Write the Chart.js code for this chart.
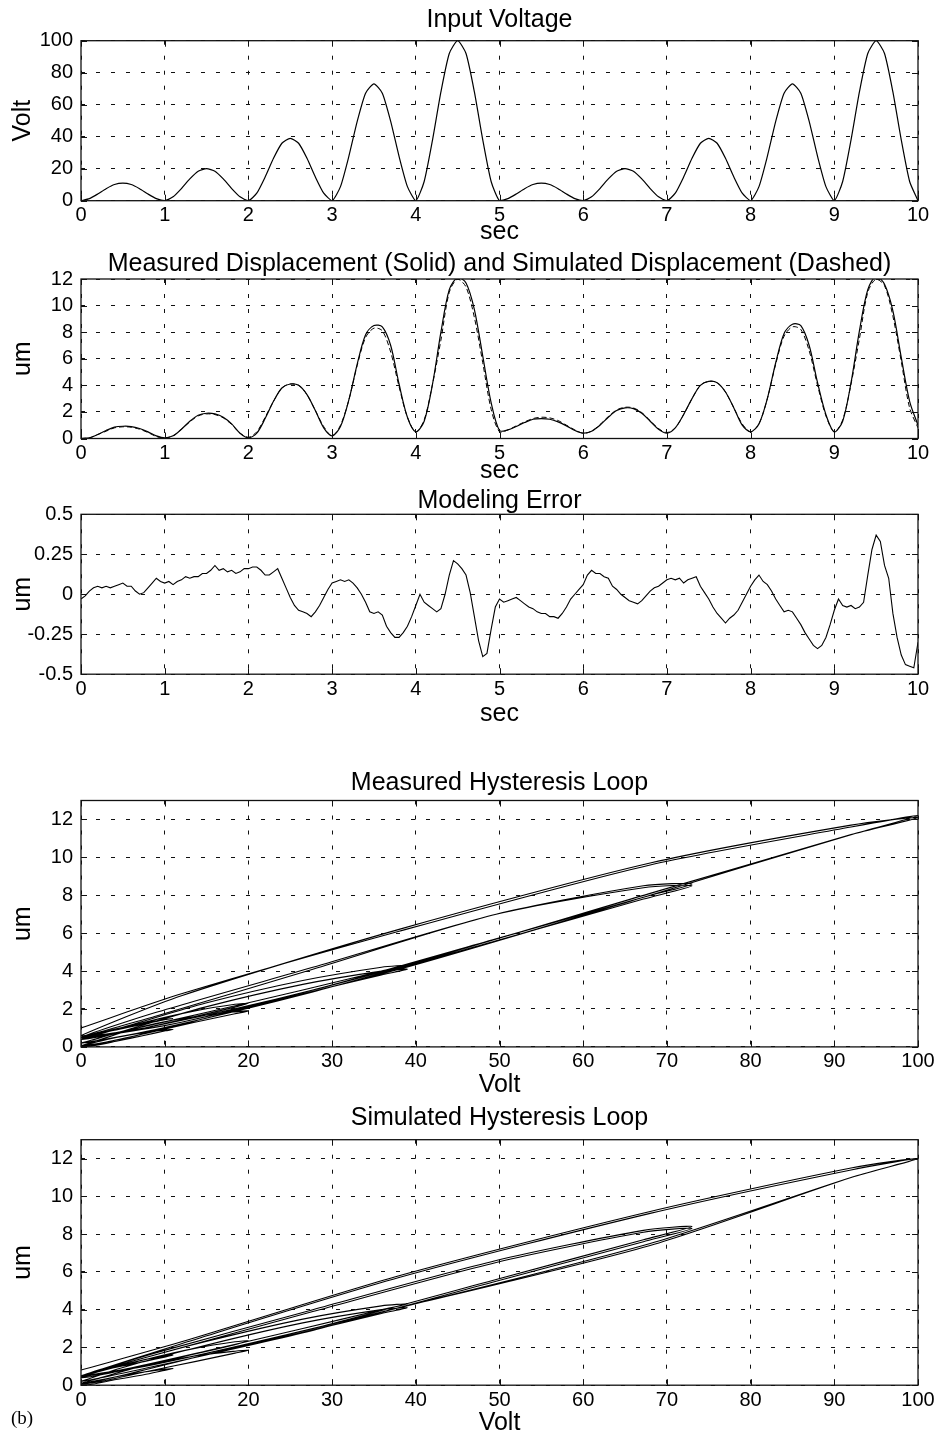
<!DOCTYPE html>
<html>
<head>
<meta charset="utf-8">
<script src="https://cdn.jsdelivr.net/npm/chart.js@4.4.1/dist/chart.umd.min.js"></script>
<style>
  html, body { margin: 0; padding: 0; background: #fff; overflow: hidden; }
  body { width: 935px; height: 1436px; position: relative; }
  .panel { position: absolute; left: 0; width: 960px; }
  #tag { position: absolute; left: 11px; top: 1408px; font: 19px "Liberation Serif", "DejaVu Serif", serif; line-height: 1; color: #000; }
</style>
</head>
<body>
<div class="panel" style="top:0px;height:245px"><canvas id="voltChart"></canvas></div>
<div class="panel" style="top:248px;height:236px"><canvas id="dispChart"></canvas></div>
<div class="panel" style="top:486px;height:241px"><canvas id="errChart"></canvas></div>
<div class="panel" style="top:760px;height:338px"><canvas id="measLoopChart"></canvas></div>
<div class="panel" style="top:1100px;height:336px"><canvas id="simLoopChart"></canvas></div>
<div id="tag">(b)</div>
<script>
// sample times (s) for voltage / displacement
const timeS = [0,0.1,0.2,0.3,0.4,0.5,0.6,0.7,0.8,0.9,1,1.1,1.2,1.3,1.4,1.5,1.6,1.7,1.8,1.9,
  2,2.1,2.2,2.3,2.4,2.5,2.6,2.7,2.8,2.9,3,3.1,3.2,3.3,3.4,3.5,3.6,3.7,3.8,3.9,
  4,4.1,4.2,4.3,4.4,4.5,4.6,4.7,4.8,4.9,5,5.1,5.2,5.3,5.4,5.5,5.6,5.7,5.8,5.9,
  6,6.1,6.2,6.3,6.4,6.5,6.6,6.7,6.8,6.9,7,7.1,7.2,7.3,7.4,7.5,7.6,7.7,7.8,7.9,
  8,8.1,8.2,8.3,8.4,8.5,8.6,8.7,8.8,8.9,9,9.1,9.2,9.3,9.4,9.5,9.6,9.7,9.8,9.9,10];

const inputVolt = [0,1.3,4.2,7.5,10.1,11,10.1,7.5,4.2,1.3,
  0,2.4,7.6,13.6,18.4,20,18.4,13.6,7.6,2.4,
  0,4.7,14.8,26.5,35.9,39,35.9,26.5,14.8,4.7,
  0,8.8,27.7,49.6,67.2,73,67.2,49.6,27.7,8.8,
  0,12,38,68,92,100,92,68,38,12,
  0,1.3,4.2,7.5,10.1,11,10.1,7.5,4.2,1.3,
  0,2.4,7.6,13.6,18.4,20,18.4,13.6,7.6,2.4,
  0,4.7,14.8,26.5,35.9,39,35.9,26.5,14.8,4.7,
  0,8.8,27.7,49.6,67.2,73,67.2,49.6,27.7,8.8,
  0,12,38,68,92,100,92,68,38,12,
  0];

const measuredDisp = [0,0.05,0.3,0.6,0.85,0.92,0.9,0.75,0.5,0.2,
  0.05,0.2,0.7,1.3,1.75,1.9,1.85,1.6,1.1,0.4,
  0.05,0.4,1.5,2.8,3.8,4.1,4.0,3.3,2.1,0.8,
  0.2,0.9,2.9,5.6,7.8,8.5,8.4,7.0,4.1,1.6,
  0.5,1.3,4.1,8.0,11.2,12.1,11.7,9.7,6.2,2.7,
  0.6,0.65,0.9,1.2,1.45,1.5,1.45,1.25,0.95,0.6,
  0.4,0.55,1.0,1.6,2.1,2.3,2.25,1.9,1.3,0.7,
  0.4,0.8,1.8,3.0,4.0,4.3,4.2,3.5,2.3,1.0,
  0.5,1.1,3.0,5.7,7.9,8.6,8.5,7.0,4.2,1.8,
  0.5,1.3,4.2,8.1,11.2,12.2,11.6,9.6,6.1,2.8,
  1.0];

const simulatedDisp = [0,0.05,0.3,0.55,0.8,0.88,0.85,0.7,0.45,0.15,
  0.05,0.2,0.7,1.25,1.7,1.85,1.8,1.55,1.05,0.4,
  0.1,0.5,1.6,2.8,3.8,4.1,4.0,3.3,2.1,0.9,
  0.2,1.0,2.9,5.5,7.6,8.3,8.1,6.5,3.9,1.6,
  0.5,1.4,4.1,7.4,11.0,12.0,11.4,9.1,5.7,2.2,
  0.5,0.65,0.95,1.25,1.5,1.6,1.55,1.35,1.0,0.65,
  0.4,0.55,1.05,1.65,2.15,2.35,2.3,1.95,1.35,0.75,
  0.45,0.8,1.8,3.0,4.0,4.3,4.2,3.5,2.3,1.1,
  0.5,1.1,3.0,5.6,7.7,8.4,8.2,6.6,4.0,1.7,
  0.5,1.4,4.1,7.5,11.0,12.0,11.5,9.2,5.8,2.3,
  0.8];

// modeling error, sampled every 0.05 s
const errTime = [0,0.05,0.1,0.15,0.2,0.25,0.3,0.35,0.4,0.45,0.5,0.55,0.6,0.65,0.7,0.75,0.8,0.85,0.9,0.95,
  1,1.05,1.1,1.15,1.2,1.25,1.3,1.35,1.4,1.45,1.5,1.55,1.6,1.65,1.7,1.75,1.8,1.85,1.9,1.95,
  2,2.05,2.1,2.15,2.2,2.25,2.3,2.35,2.4,2.45,2.5,2.55,2.6,2.65,2.7,2.75,2.8,2.85,2.9,2.95,
  3,3.05,3.1,3.15,3.2,3.25,3.3,3.35,3.4,3.45,3.5,3.55,3.6,3.65,3.7,3.75,3.8,3.85,3.9,3.95,
  4,4.05,4.1,4.15,4.2,4.25,4.3,4.35,4.4,4.45,4.5,4.55,4.6,4.65,4.7,4.75,4.8,4.85,4.9,4.95,
  5,5.05,5.1,5.15,5.2,5.25,5.3,5.35,5.4,5.45,5.5,5.55,5.6,5.65,5.7,5.75,5.8,5.85,5.9,5.95,
  6,6.05,6.1,6.15,6.2,6.25,6.3,6.35,6.4,6.45,6.5,6.55,6.6,6.65,6.7,6.75,6.8,6.85,6.9,6.95,
  7,7.05,7.1,7.15,7.2,7.25,7.3,7.35,7.4,7.45,7.5,7.55,7.6,7.65,7.7,7.75,7.8,7.85,7.9,7.95,
  8,8.05,8.1,8.15,8.2,8.25,8.3,8.35,8.4,8.45,8.5,8.55,8.6,8.65,8.7,8.75,8.8,8.85,8.9,8.95,
  9,9.05,9.1,9.15,9.2,9.25,9.3,9.35,9.4,9.45,9.5,9.55,9.6,9.65,9.7,9.75,9.8,9.85,9.9,9.95,10];

const modelErr = [-0.03,-0.01,0.02,0.04,0.05,0.04,0.05,0.04,0.05,0.06,0.07,0.05,0.05,0.02,0.00,0.01,0.04,0.07,0.10,0.08,
  0.07,0.08,0.06,0.08,0.09,0.11,0.10,0.11,0.11,0.13,0.13,0.15,0.18,0.15,0.16,0.14,0.15,0.13,0.14,0.16,
  0.16,0.17,0.17,0.15,0.12,0.12,0.14,0.16,0.10,0.04,-0.02,-0.07,-0.10,-0.11,-0.12,-0.14,-0.11,-0.07,-0.02,0.03,
  0.07,0.08,0.09,0.08,0.09,0.07,0.04,0.00,-0.05,-0.11,-0.12,-0.11,-0.13,-0.20,-0.24,-0.27,-0.27,-0.24,-0.20,-0.14,
  -0.07,0.00,-0.05,-0.07,-0.09,-0.11,-0.09,0.00,0.12,0.21,0.19,0.16,0.12,0.01,-0.14,-0.29,-0.39,-0.37,-0.22,-0.08,
  -0.03,-0.05,-0.04,-0.03,-0.02,-0.04,-0.06,-0.08,-0.09,-0.11,-0.12,-0.12,-0.14,-0.14,-0.15,-0.12,-0.08,-0.03,0.00,0.03,
  0.06,0.12,0.15,0.13,0.13,0.11,0.10,0.05,0.03,0.00,-0.02,-0.04,-0.05,-0.06,-0.04,-0.01,0.02,0.04,0.05,0.07,
  0.09,0.10,0.09,0.10,0.07,0.09,0.10,0.11,0.05,0.01,-0.03,-0.08,-0.12,-0.15,-0.18,-0.15,-0.13,-0.10,-0.05,0.00,
  0.05,0.09,0.12,0.08,0.06,0.02,-0.03,-0.07,-0.11,-0.10,-0.11,-0.15,-0.19,-0.24,-0.28,-0.32,-0.34,-0.32,-0.27,-0.19,
  -0.10,-0.03,-0.07,-0.08,-0.07,-0.09,-0.08,-0.05,0.12,0.28,0.37,0.33,0.18,0.10,-0.12,-0.27,-0.38,-0.44,-0.45,-0.46,-0.30];

const secTicks = [0,1,2,3,4,5,6,7,8,9,10];
const voltTicks = [0,10,20,30,40,50,60,70,80,90,100];
const inputTicks = [0,20,40,60,80,100];
const dispTicks = [0,2,4,6,8,10,12];
const errTicks = [-0.5,-0.25,0,0.25,0.5];

const FONT = '"Liberation Sans", Arial, Helvetica, sans-serif';
const tickFont = { family: FONT, size: 20, lineHeight: 1 };
const labelFont = { family: FONT, size: 25, lineHeight: 1 };
const CANVAS_W = 960, AREA_LEFT = 81, AREA_RIGHT = 918;

const pts = (xs, ys) => xs.map((x, i) => ({ x: x, y: ys[i] }));

// black box round the plot area with short inward ticks, matlab style
const frame = {
  id: 'frame',
  afterDraw(chart) {
    const { ctx, chartArea: a, scales } = chart;
    ctx.save();
    ctx.strokeStyle = '#111';
    ctx.lineWidth = 1.3;
    ctx.setLineDash([]);
    ctx.strokeRect(a.left, a.top, a.right - a.left, a.bottom - a.top);
    ctx.beginPath();
    scales.x.ticks.forEach(t => {
      const px = Math.round(scales.x.getPixelForValue(t.value)) + 0.5;
      ctx.moveTo(px, a.bottom); ctx.lineTo(px, a.bottom - 6);
      ctx.moveTo(px, a.top); ctx.lineTo(px, a.top + 6);
    });
    scales.y.ticks.forEach(t => {
      const py = Math.round(scales.y.getPixelForValue(t.value)) + 0.5;
      ctx.moveTo(a.left, py); ctx.lineTo(a.left + 6, py);
      ctx.moveTo(a.right, py); ctx.lineTo(a.right - 6, py);
    });
    ctx.lineWidth = 1;
    ctx.stroke();
    ctx.restore();
  }
};

function makeOptions(p) {
  const gridStyle = { color: '#111', lineWidth: 1, drawTicks: false, borderDash: [4, 11] };
  const borderStyle = { display: false, dash: [4, 11] };
  return {
    responsive: true,
    maintainAspectRatio: false,
    animation: false,
    events: [],
    layout: { padding: { left: 0, right: CANVAS_W - AREA_RIGHT, top: 0, bottom: 0 } },
    plugins: { legend: { display: false }, tooltip: { enabled: false }, title: { display: false } },
    scales: {
      x: {
        type: 'linear', min: p.xMin, max: p.xMax,
        afterBuildTicks: s => { s.ticks = p.xTicks.map(v => ({ value: v })); },
        afterFit: s => { s.height = p.bottomH; s.paddingLeft = 0; s.paddingRight = 0; },
        grid: gridStyle, border: borderStyle,
        ticks: { color: '#000', font: tickFont, padding: 5, maxRotation: 0, autoSkip: false, callback: v => String(v) },
        title: { display: true, text: p.xTitle, color: '#000', font: labelFont, padding: { top: 0, bottom: 0 } }
      },
      top: {
        type: 'linear', position: 'top', min: p.xMin, max: p.xMax,
        grid: { display: false }, border: { display: false }, ticks: { display: false },
        afterFit: s => { s.height = p.topH; s.paddingLeft = 0; s.paddingRight = 0; },
        title: { display: true, text: p.title, color: '#000', font: labelFont, padding: { top: p.titlePad, bottom: 0 } }
      },
      y: {
        type: 'linear', min: p.yMin, max: p.yMax,
        afterBuildTicks: s => { s.ticks = p.yTicks.map(v => ({ value: v })); },
        afterFit: s => { s.width = AREA_LEFT; s.paddingTop = 0; s.paddingBottom = 0; },
        grid: gridStyle, border: borderStyle,
        ticks: { color: '#000', font: tickFont, padding: 8, autoSkip: false, callback: v => String(v) },
        title: { display: true, text: p.yTitle, color: '#000', font: labelFont, padding: { top: 11, bottom: 0 } }
      }
    }
  };
}

function lineSet(data, dash, tension, width) {
  return {
    data: data, xAxisID: 'x', yAxisID: 'y', showLine: true,
    borderColor: '#000', borderWidth: width, borderDash: dash,
    pointRadius: 0, tension: tension, fill: false
  };
}

new Chart(document.getElementById('voltChart'), {
  type: 'scatter',
  data: { datasets: [lineSet(pts(timeS, inputVolt), [], 0.2, 1.2)] },
  options: makeOptions({ title: 'Input Voltage', titlePad: 7.5, topH: 40.7, bottomH: 44.3,
    xTitle: 'sec', yTitle: 'Volt', xMin: 0, xMax: 10, xTicks: secTicks, yMin: 0, yMax: 100, yTicks: inputTicks }),
  plugins: [frame]
});

new Chart(document.getElementById('dispChart'), {
  type: 'scatter',
  data: { datasets: [
    lineSet(pts(timeS, measuredDisp), [], 0.3, 1.2),
    lineSet(pts(timeS, simulatedDisp), [5, 3], 0.3, 1)
  ] },
  options: makeOptions({ title: 'Measured Displacement (Solid) and Simulated Displacement (Dashed)', titlePad: 3.5, topH: 31, bottomH: 45.5,
    xTitle: 'sec', yTitle: 'um', xMin: 0, xMax: 10, xTicks: secTicks, yMin: 0, yMax: 12, yTicks: dispTicks }),
  plugins: [frame]
});

new Chart(document.getElementById('errChart'), {
  type: 'scatter',
  data: { datasets: [lineSet(pts(errTime, modelErr), [], 0, 1.1)] },
  options: makeOptions({ title: 'Modeling Error', titlePad: 3, topH: 28.3, bottomH: 52.8,
    xTitle: 'sec', yTitle: 'um', xMin: 0, xMax: 10, xTicks: secTicks, yMin: -0.5, yMax: 0.5, yTicks: errTicks }),
  plugins: [frame]
});

new Chart(document.getElementById('measLoopChart'), {
  type: 'scatter',
  data: { datasets: [lineSet(pts(inputVolt, measuredDisp), [], 0.25, 1.1)] },
  options: makeOptions({ title: 'Measured Hysteresis Loop', titlePad: 10.5, topH: 40.5, bottomH: 51.1,
    xTitle: 'Volt', yTitle: 'um', xMin: 0, xMax: 100, xTicks: voltTicks, yMin: 0, yMax: 13, yTicks: dispTicks }),
  plugins: [frame]
});

new Chart(document.getElementById('simLoopChart'), {
  type: 'scatter',
  data: { datasets: [lineSet(pts(inputVolt, simulatedDisp), [], 0.25, 1.1)] },
  options: makeOptions({ title: 'Simulated Hysteresis Loop', titlePad: 6, topH: 39.7, bottomH: 50.8,
    xTitle: 'Volt', yTitle: 'um', xMin: 0, xMax: 100, xTicks: voltTicks, yMin: 0, yMax: 13, yTicks: dispTicks }),
  plugins: [frame]
});
</script>
</body>
</html>
